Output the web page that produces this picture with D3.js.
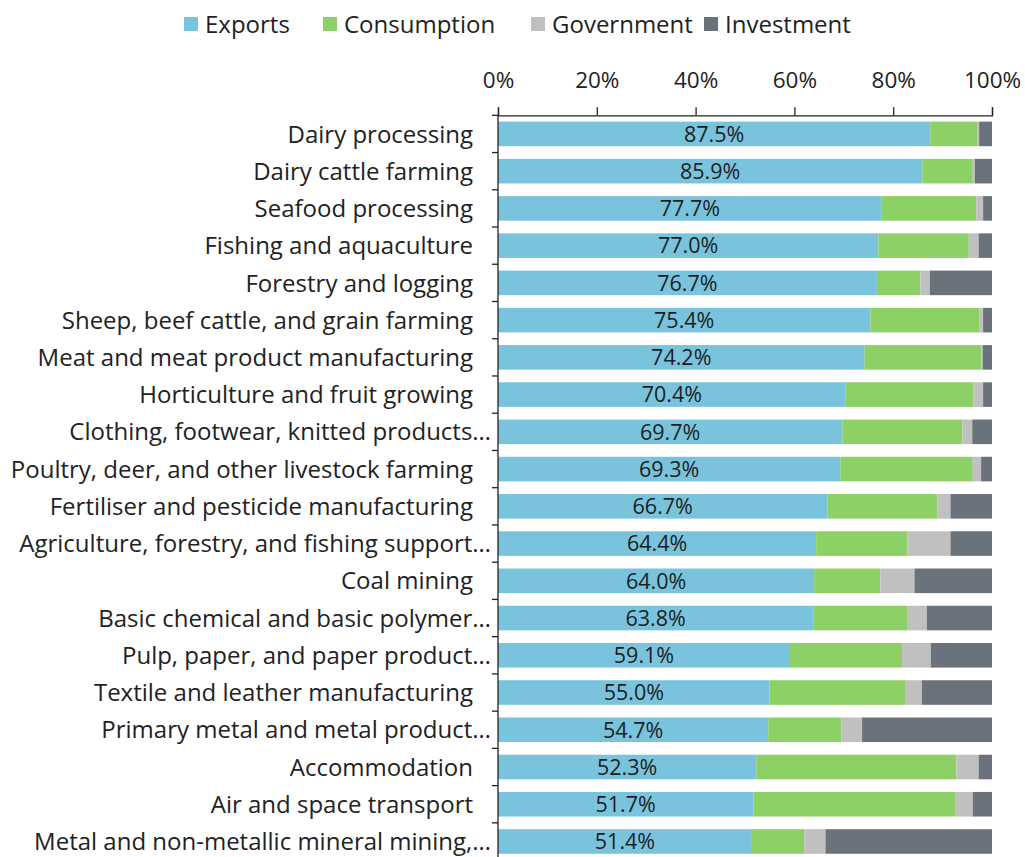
<!DOCTYPE html>
<html><head><meta charset="utf-8">
<script src="https://cdn.jsdelivr.net/npm/d3@7"></script>
<style>body{margin:0;background:#fff;} svg{display:block;font-family:"Open Sans",sans-serif;}</style>
</head><body>
<svg id="chart" width="1025" height="857"></svg>
<script>
const categories = [
  "Dairy processing","Dairy cattle farming","Seafood processing","Fishing and aquaculture",
  "Forestry and logging","Sheep, beef cattle, and grain farming","Meat and meat product manufacturing",
  "Horticulture and fruit growing","Clothing, footwear, knitted products…","Poultry, deer, and other livestock farming",
  "Fertiliser and pesticide manufacturing","Agriculture, forestry, and fishing support…","Coal mining",
  "Basic chemical and basic polymer…","Pulp, paper, and paper product…","Textile and leather manufacturing",
  "Primary metal and metal product…","Accommodation","Air and space transport","Metal and non-metallic mineral mining,…"
];
const exportsVals     = [87.5,85.9,77.7,77.0,76.7,75.4,74.2,70.4,69.7,69.3,66.7,64.4,64.0,63.8,59.1,55.0,54.7,52.3,51.7,51.4];
const consumptionVals = [9.6,10.2,19.1,18.3,8.8,22.1,23.7,25.8,24.3,26.8,22.2,18.5,13.4,19.0,22.7,27.4,14.8,40.5,40.8,10.6];
const governmentVals  = [0.3,0.4,1.4,2.0,1.9,0.7,0.2,2.0,2.0,1.7,2.7,8.7,6.9,4.0,5.8,3.4,4.2,4.5,3.6,4.3];
const investmentVals  = [2.6,3.5,1.8,2.7,12.6,1.8,1.9,1.8,4.0,2.2,8.4,8.4,15.7,13.2,12.4,14.2,26.3,2.7,3.9,33.7];
const seriesNames = ["Exports","Consumption","Government","Investment"];
const seriesColors = ["#7ac3dc","#8cd066","#c0c0c0","#6a727c"];
const xTicks = [0,20,40,60,80,100];

const rows = categories.map((c,i)=>({cat:c, Exports:exportsVals[i], Consumption:consumptionVals[i], Government:governmentVals[i], Investment:investmentVals[i]}));
const stack = d3.stack().keys(seriesNames)(rows);

const svg = d3.select("#chart");
const x = d3.scaleLinear().domain([0,100]).range([498,992]);
const y = d3.scaleBand().domain(categories).range([115.3,860.1]).paddingInner(0.34).paddingOuter(0.17);
const color = d3.scaleOrdinal().domain(seriesNames).range(seriesColors);

// bars
svg.append("g").selectAll("g").data(stack).join("g").attr("fill",d=>color(d.key))
  .selectAll("rect").data(d=>d).join("rect")
  .attr("x",d=>x(d[0])).attr("width",d=>Math.max(0,x(d[1])-x(d[0])))
  .attr("y",d=>y(d.data.cat)).attr("height",y.bandwidth());

// value labels
svg.append("g").selectAll("text").data(rows).join("text")
  .attr("x",d=>(x(0)+x(d.Exports))/2).attr("y",d=>y(d.cat)+y.bandwidth()/2)
  .attr("dy","0.36em").attr("text-anchor","middle").attr("font-size",21.5).attr("fill","#1a1e24")
  .text(d=>d.Exports.toFixed(1)+"%");

// x axis (top)
const xAxis = d3.axisTop(x).tickValues(xTicks).tickFormat(d=>d+"%").tickSize(8).tickPadding(19);
const gx = svg.append("g").attr("transform","translate(0,115.3)").call(xAxis);
gx.select(".domain").attr("stroke","#222").attr("stroke-width",1.3);
gx.selectAll(".tick line").attr("stroke","#222").attr("stroke-width",1.3);
gx.selectAll(".tick text").attr("font-size",22.5).attr("fill","#222").attr("font-family","Open Sans");

// y axis line and boundary ticks
const step = y.step();
const gy = svg.append("g");
gy.append("line").attr("x1",x(0)).attr("x2",x(0)).attr("y1",115.3).attr("y2",857).attr("stroke","#222").attr("stroke-width",1.3);
gy.selectAll("line.t").data(categories).join("line").attr("class","t")
  .attr("x1",x(0)-6).attr("x2",x(0))
  .attr("y1",d=>y(d)-step*y.paddingInner()/2).attr("y2",d=>y(d)-step*y.paddingInner()/2)
  .attr("stroke","#222").attr("stroke-width",1.3);
gy.selectAll("text").data(categories).join("text")
  .attr("x",d=>d.endsWith("…")?491:473).attr("y",d=>y(d)+y.bandwidth()/2).attr("dy","0.36em")
  .attr("text-anchor","end").attr("font-size",24).attr("fill","#222").text(d=>d);

// legend
const legendX = [184,323,531,704];
const lg = svg.append("g").selectAll("g").data(seriesNames).join("g")
  .attr("transform",(d,i)=>`translate(${legendX[i]},0)`);
lg.append("rect").attr("x",0).attr("y",17).attr("width",14).attr("height",14).attr("fill",d=>color(d));
lg.append("text").attr("x",21).attr("y",24).attr("dy","0.36em").attr("font-size",24).attr("fill","#222").text(d=>d);
</script>
</body></html>
